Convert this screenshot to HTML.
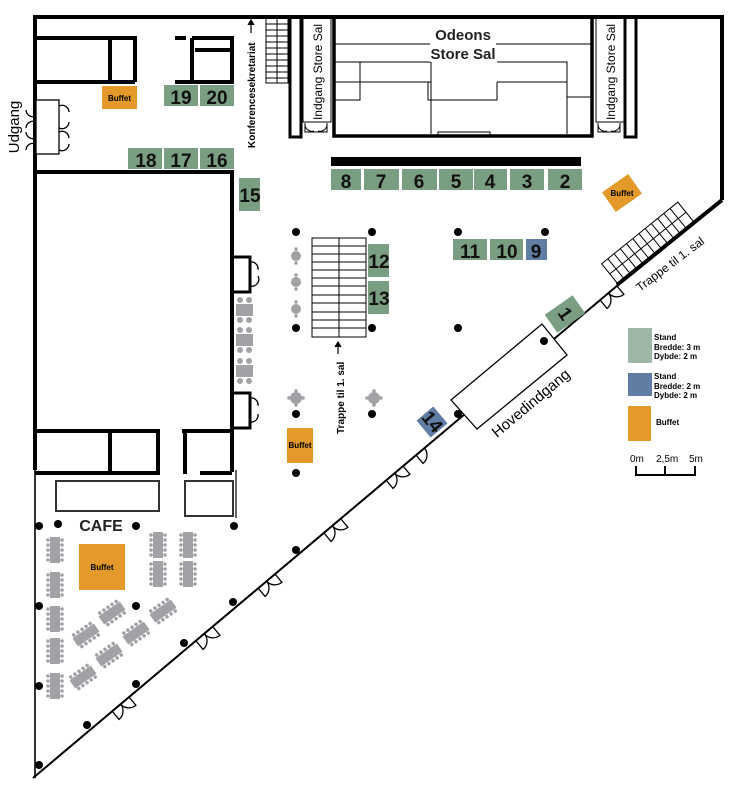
<!DOCTYPE html>
<html><head><meta charset="utf-8"><style>
html,body{margin:0;padding:0;background:#fff;}
svg{display:block;font-family:"Liberation Sans",Arial,sans-serif;}
.g{fill:#7a9e82}.b{fill:#607ea3}.o{fill:#e39a2a}
.n{font-size:19px;font-weight:bold;fill:#111;text-anchor:middle}
.w{stroke:#000;stroke-width:4;fill:none}
.t{stroke:#000;stroke-width:1.3;fill:none}
.gr{fill:#a0a2a5}
.d{fill:#000}
</style></head><body>
<svg width="740" height="788" viewBox="0 0 740 788">
<defs>
<g id="vt"><rect x="-5" y="-13" width="10" height="26" class="gr"/>
<g class="gr"><circle cx="-7" cy="-10" r="1.8"/><circle cx="-7" cy="-5" r="1.8"/><circle cx="-7" cy="0" r="1.8"/><circle cx="-7" cy="5" r="1.8"/><circle cx="-7" cy="10" r="1.8"/><circle cx="7" cy="-10" r="1.8"/><circle cx="7" cy="-5" r="1.8"/><circle cx="7" cy="0" r="1.8"/><circle cx="7" cy="5" r="1.8"/><circle cx="7" cy="10" r="1.8"/></g></g>
<g id="door"><path d="M0,0 L0,11 A11,11 0 0 0 11,0" class="t" fill="#fff"/></g>
<g id="door2"><path d="M0,0 L0,11 A11,11 0 0 0 11,0 M22,0 L22,11 A11,11 0 0 1 11,0" class="t" fill="#fff"/></g>
<g id="rt"><circle r="5" class="gr"/><circle cy="-7" r="1.8" class="gr"/><circle cy="7" r="1.8" class="gr"/></g>
<g id="xt"><circle r="6" class="gr"/><circle cx="-7" r="1.8" class="gr"/><circle cx="7" r="1.8" class="gr"/><circle cy="-7" r="1.8" class="gr"/><circle cy="7" r="1.8" class="gr"/></g>
</defs>

<!-- outer walls -->
<path d="M35,470 L35,17 L722,17 L722,200" class="w"/>
<line x1="35" y1="470" x2="35" y2="778" stroke="#333" stroke-width="2"/>
<line x1="33" y1="778" x2="618" y2="285" stroke="#000" stroke-width="2"/>
<line x1="722" y1="200" x2="617" y2="285" stroke="#000" stroke-width="4"/>

<!-- left wing rooms -->
<path d="M35,38 H135 V82 M35,82 H135 M110,38 V82" class="w"/>
<path d="M175,38 H186 M192,38 H232 V82 H175 M192,38 V82 M195,50 H232" class="w"/>
<rect x="36" y="100" width="23" height="54" fill="#fff" stroke="#000" stroke-width="1.3"/>
<path d="M26,110 A7,7 0 0 0 36,116 M26,128 A7,7 0 0 1 36,122 M26,132 A7,7 0 0 0 36,138 M26,150 A7,7 0 0 1 36,144 M59,106 A7,7 0 0 1 69,112 M59,128 A7,7 0 0 0 69,122 M59,132 A7,7 0 0 1 69,138 M59,150 A7,7 0 0 0 69,144" class="t"/>
<text transform="translate(19,127) rotate(-90)" font-size="15" text-anchor="middle">Udgang</text>
<path d="M35,172 H232 V472" class="w"/>
<path d="M35,431 H158 V473 H35 M110,431 V473" class="w"/>
<path d="M182,431 H232 M185,431 V474 M200,473 H232" class="w"/>
<rect x="56" y="481" width="103" height="30" fill="none" stroke="#333" stroke-width="2"/>
<rect x="185" y="481" width="48" height="35" fill="none" stroke="#333" stroke-width="2"/>
<line x1="236" y1="470" x2="236" y2="518" stroke="#333" stroke-width="1.5"/>
<path d="M232,257 H250 V292 H232 M232,393 H250 V428 H232" class="w" style="stroke-width:3"/>
<path d="M250,262 A7,7 0 0 1 258,270 M250,286 A7,7 0 0 0 258,276 M250,398 A7,7 0 0 1 258,406 M250,422 A7,7 0 0 0 258,414" class="t"/>

<!-- conference stairs -->
<g stroke="#000" stroke-width="1" fill="none">
<rect x="266" y="17" width="22" height="66"/><line x1="277" y1="17" x2="277" y2="83"/>
<line x1="266" y1="24" x2="288" y2="24"/><line x1="266" y1="30" x2="288" y2="30"/><line x1="266" y1="36" x2="288" y2="36"/><line x1="266" y1="42" x2="288" y2="42"/><line x1="266" y1="48" x2="288" y2="48"/><line x1="266" y1="54" x2="288" y2="54"/><line x1="266" y1="60" x2="288" y2="60"/><line x1="266" y1="66" x2="288" y2="66"/><line x1="266" y1="72" x2="288" y2="72"/><line x1="266" y1="78" x2="288" y2="78"/>
</g>
<text transform="translate(255,148) rotate(-90)" font-size="10" font-weight="bold">Konferencesekretariat</text>
<path d="M251,33 V22 M248,25 L251,20 L254,25" stroke="#000" stroke-width="1.2" fill="#000"/>
<path d="M290,17 V137 H301 V17" class="w" style="stroke-width:3"/>
<rect x="303" y="18" width="28" height="104" fill="none" stroke="#000" stroke-width="1"/>
<text transform="translate(322,72) rotate(-90)" font-size="12" text-anchor="middle">Indgang Store Sal</text>
<path d="M305,123 V132 H327 V123 M305,124 A7,7 0 0 0 314,131 M327,124 A7,7 0 0 1 318,131" class="t" style="stroke-width:1"/>

<!-- Odeons -->
<path d="M334,17 V136 H592 V17" class="w" style="stroke-width:3.5"/>
<g stroke="#000" stroke-width="1" fill="none">
<line x1="334" y1="44" x2="592" y2="44"/>
<path d="M334,62 H431 V82 H334 M431,82 V134 M428,82 V100 H497 V82 M497,62 H567 V82 H497 M567,62 V134 M567,97 H592"/>
<path d="M360,62 V82 M360,82 V100 H334"/>
<path d="M438,135 V132 H490 V135"/>
</g>
<rect x="430" y="28" width="66" height="34" fill="#fff"/>
<text x="463" y="40" font-size="15" font-weight="bold" text-anchor="middle" fill="#222">Odeons</text>
<text x="463" y="59" font-size="15" font-weight="bold" text-anchor="middle" fill="#222">Store Sal</text>
<rect x="596" y="18" width="28" height="104" fill="none" stroke="#000" stroke-width="1"/>
<text transform="translate(615,72) rotate(-90)" font-size="12" text-anchor="middle">Indgang Store Sal</text>
<path d="M598,123 V132 H620 V123 M598,124 A7,7 0 0 0 607,131 M620,124 A7,7 0 0 1 611,131" class="t" style="stroke-width:1"/>
<path d="M625,17 V137 H636 V17" class="w" style="stroke-width:3"/>

<!-- black bar & stands -->
<rect x="331" y="157" width="250" height="9" fill="#000"/>
<rect class="g" x="331" y="169" width="30" height="21"/><text class="n" x="346" y="188">8</text>
<rect class="g" x="364" y="169" width="35" height="21"/><text class="n" x="381" y="188">7</text>
<rect class="g" x="402" y="169" width="35" height="21"/><text class="n" x="419" y="188">6</text>
<rect class="g" x="439" y="169" width="34" height="21"/><text class="n" x="456" y="188">5</text>
<rect class="g" x="474" y="169" width="33" height="21"/><text class="n" x="490" y="188">4</text>
<rect class="g" x="510" y="169" width="34" height="21"/><text class="n" x="527" y="188">3</text>
<rect class="g" x="548" y="169" width="34" height="21"/><text class="n" x="565" y="188">2</text>
<rect class="g" x="239" y="178" width="21" height="33"/><text class="n" x="250" y="202">15</text>
<rect class="g" x="128" y="148" width="34" height="21"/><text class="n" x="146" y="167">18</text>
<rect class="g" x="164" y="148" width="34" height="21"/><text class="n" x="181" y="167">17</text>
<rect class="g" x="200" y="148" width="34" height="21"/><text class="n" x="217" y="167">16</text>
<rect class="g" x="164" y="85" width="34" height="21"/><text class="n" x="181" y="104">19</text>
<rect class="g" x="200" y="85" width="34" height="21"/><text class="n" x="217" y="104">20</text>
<rect class="o" x="102" y="86" width="35" height="23"/><text x="119.5" y="101" font-size="8" font-weight="bold" text-anchor="middle">Buffet</text>
<rect class="g" x="453" y="239" width="34" height="21"/><text class="n" x="470" y="258">11</text>
<rect class="g" x="490" y="239" width="33" height="21"/><text class="n" x="507" y="258">10</text>
<rect class="b" x="526" y="239" width="21" height="21"/><text class="n" x="536" y="258">9</text>
<rect class="g" x="368" y="244" width="21" height="33"/><text class="n" x="379" y="268">12</text>
<rect class="g" x="368" y="281" width="21" height="33"/><text class="n" x="379" y="305">13</text>

<!-- middle stairs -->
<g stroke="#000" stroke-width="1" fill="none">
<rect x="312" y="238" width="54" height="99"/><line x1="339" y1="238" x2="339" y2="337"/>
<line x1="312" y1="246" x2="366" y2="246"/><line x1="312" y1="254" x2="366" y2="254"/><line x1="312" y1="262" x2="366" y2="262"/><line x1="312" y1="270" x2="366" y2="270"/><line x1="312" y1="278" x2="366" y2="278"/><line x1="312" y1="286" x2="366" y2="286"/><line x1="312" y1="295" x2="366" y2="295"/><line x1="312" y1="303" x2="366" y2="303"/><line x1="312" y1="312" x2="366" y2="312"/><line x1="312" y1="320" x2="366" y2="320"/><line x1="312" y1="328" x2="366" y2="328"/>
</g>
<path d="M338,354 V345 M335,347 L338,342 L341,347" stroke="#000" stroke-width="1.2" fill="#000"/>
<text transform="translate(344,434) rotate(-90)" font-size="10" font-weight="bold">Trappe til 1. sal</text>

<!-- dots -->
<g class="d">
<circle cx="296" cy="232" r="4"/><circle cx="372" cy="232" r="4"/><circle cx="458" cy="232" r="4"/><circle cx="545" cy="232" r="4"/>
<circle cx="296" cy="328" r="4"/><circle cx="372" cy="328" r="4"/><circle cx="458" cy="328" r="4"/>
<circle cx="296" cy="414" r="4"/><circle cx="372" cy="414" r="4"/><circle cx="458" cy="414" r="4"/><circle cx="296" cy="473" r="4"/>
<circle cx="39" cy="526" r="4"/><circle cx="58" cy="524" r="4"/><circle cx="136" cy="526" r="4"/><circle cx="234" cy="526" r="4"/>
<circle cx="39" cy="606" r="4"/><circle cx="136" cy="606" r="4"/><circle cx="233" cy="602" r="4"/><circle cx="296" cy="550" r="4"/>
<circle cx="184" cy="643" r="4"/><circle cx="136" cy="684" r="4"/><circle cx="39" cy="686" r="4"/><circle cx="87" cy="725" r="4"/><circle cx="39" cy="765" r="4"/>
</g>
<use href="#rt" x="296" y="256"/><use href="#rt" x="296" y="282"/><use href="#rt" x="296" y="309"/>
<use href="#xt" x="296" y="398"/><use href="#xt" x="374" y="398"/>
<g class="gr">
<rect x="236" y="304" width="17" height="12"/><rect x="236" y="334" width="17" height="12"/><rect x="236" y="365" width="17" height="12"/>
<circle cx="240" cy="300" r="3"/><circle cx="249" cy="300" r="3"/><circle cx="240" cy="320" r="3"/><circle cx="249" cy="320" r="3"/>
<circle cx="240" cy="330" r="3"/><circle cx="249" cy="330" r="3"/><circle cx="240" cy="350" r="3"/><circle cx="249" cy="350" r="3"/>
<circle cx="240" cy="361" r="3"/><circle cx="249" cy="361" r="3"/><circle cx="240" cy="381" r="3"/><circle cx="249" cy="381" r="3"/>
</g>
<rect class="o" x="287" y="428" width="26" height="35"/><text x="300" y="448" font-size="8" font-weight="bold" text-anchor="middle">Buffet</text>

<!-- Hovedindgang -->
<polygon points="451,400 542,324 567,355 477,429" fill="#fff" stroke="#000" stroke-width="1.3"/>
<circle cx="544" cy="341" r="4" class="d"/>
<text transform="translate(534,407) rotate(-40)" font-size="15" text-anchor="middle">Hovedindgang</text>
<g transform="translate(565,314) rotate(-35)"><rect class="g" x="-17" y="-11" width="34" height="22"/><text class="n" transform="rotate(90) translate(0,6)" x="0" y="0">1</text></g>
<g transform="translate(432,422) rotate(-40)"><rect class="b" x="-11" y="-11" width="22" height="22"/><text class="n" transform="rotate(90)" x="0" y="6">14</text></g>

<!-- diagonal stairs -->
<g transform="translate(618,284) rotate(-39)" stroke="#000" stroke-width="1" fill="none">
<rect x="0" y="-26" width="98" height="26"/><line x1="0" y1="-13" x2="98" y2="-13"/>
<path d="M8,-26V0M16,-26V0M24,-26V0M32,-26V0M40,-26V0M48,-26V0M56,-26V0M64,-26V0M72,-26V0M80,-26V0M88,-26V0"/>
</g>
<text transform="translate(640,292) rotate(-37)" font-size="12">Trappe til 1. sal</text>
<g transform="translate(622,193) rotate(-35)"><rect class="o" x="-16" y="-12" width="32" height="24"/></g>
<text x="622" y="196" font-size="8" font-weight="bold" text-anchor="middle">Buffet</text>

<!-- doors on diagonal -->
<use href="#door2" transform="translate(112,711) rotate(-40)"/>
<use href="#door2" transform="translate(196,641) rotate(-40)"/>
<use href="#door2" transform="translate(258,588) rotate(-40)"/>
<use href="#door2" transform="translate(324,533) rotate(-40)"/>
<use href="#door2" transform="translate(386,480) rotate(-40)"/>
<use href="#door" transform="translate(416,455) rotate(-40)"/>
<use href="#door2" transform="translate(600,300) rotate(-40)"/>

<!-- cafe -->
<text x="101" y="531" font-size="16" font-weight="bold" text-anchor="middle" fill="#222">CAFE</text>
<rect class="o" x="79" y="544" width="46" height="46"/><text x="102" y="570" font-size="8" font-weight="bold" text-anchor="middle">Buffet</text>
<use href="#vt" x="55" y="550"/><use href="#vt" x="55" y="585"/><use href="#vt" x="55" y="619"/><use href="#vt" x="55" y="651"/><use href="#vt" x="55" y="686"/>
<use href="#vt" x="158" y="545"/><use href="#vt" x="158" y="574"/><use href="#vt" x="188" y="545"/><use href="#vt" x="188" y="574"/>
<use href="#vt" transform="translate(112,613) rotate(55)"/>
<use href="#vt" transform="translate(163,611) rotate(55)"/>
<use href="#vt" transform="translate(86,635) rotate(55)"/>
<use href="#vt" transform="translate(136,633) rotate(55)"/>
<use href="#vt" transform="translate(109,655) rotate(55)"/>
<use href="#vt" transform="translate(83,677) rotate(55)"/>

<!-- legend -->
<rect x="628" y="328" width="24" height="35" fill="#9fb8a6"/>
<text x="654" y="340" font-size="8" font-weight="bold">Stand</text>
<text x="654" y="350" font-size="8" font-weight="bold">Bredde: 3 m</text>
<text x="654" y="359" font-size="8" font-weight="bold">Dybde:   2 m</text>
<rect x="628" y="373" width="24" height="23" fill="#607ea3"/>
<text x="654" y="379" font-size="8" font-weight="bold">Stand</text>
<text x="654" y="389" font-size="8" font-weight="bold">Bredde: 2 m</text>
<text x="654" y="398" font-size="8" font-weight="bold">Dybde:   2 m</text>
<rect x="628" y="406" width="23" height="35" fill="#e39a2a"/>
<text x="656" y="425" font-size="8" font-weight="bold">Buffet</text>
<text x="630" y="462" font-size="10">0m</text><text x="656" y="462" font-size="10">2,5m</text><text x="689" y="462" font-size="10">5m</text>
<path d="M636,466 V475 H695 V466 M665,466 V475" stroke="#000" stroke-width="2" fill="none"/>
</svg>
</body></html>
